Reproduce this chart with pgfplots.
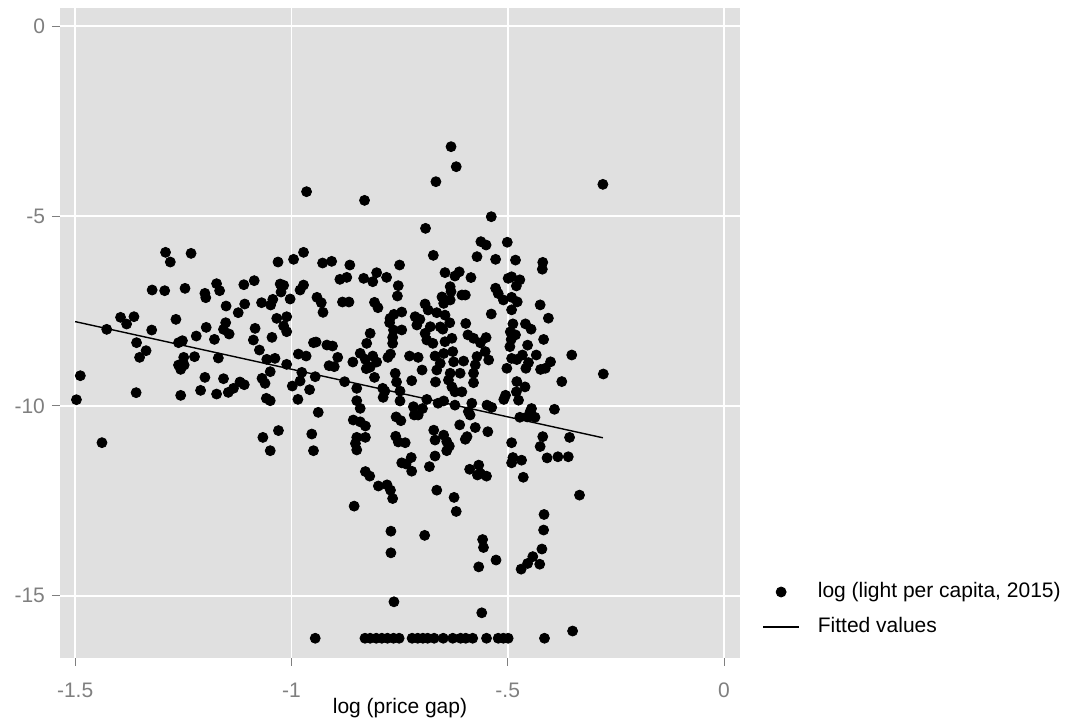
\documentclass[border=0pt]{standalone}
\usepackage{pgfplots}
\pgfplotsset{compat=1.18}
\usepackage{pgfplotstable}
\usepackage{fontspec}
\setmainfont{Liberation Sans}

\definecolor{panelgray}{HTML}{E0E0E0}
\definecolor{ticktext}{HTML}{7F7F7F}

% log(price gap), log(light per capita, 2015)
\pgfplotstableread{
x y
-1.291 -5.956
-1.280 -6.211
-1.232 -5.983
-1.322 -6.948
-1.293 -6.966
-1.246 -6.904
-1.173 -6.781
-1.166 -6.966
-1.110 -6.808
-1.200 -7.036
-1.198 -7.150
-1.151 -7.370
-1.108 -7.317
-1.123 -7.545
-1.395 -7.668
-1.364 -7.651
-1.267 -7.721
-1.427 -7.984
-1.381 -7.844
-1.323 -8.002
-1.358 -8.335
-1.336 -8.546
-1.351 -8.722
-1.261 -8.335
-1.252 -8.283
-1.220 -8.160
-1.197 -7.932
-1.178 -8.248
-1.157 -7.984
-1.152 -7.809
-1.144 -8.107
-1.249 -8.722
-1.224 -8.704
-1.169 -8.739
-1.261 -8.924
-1.248 -8.924
-1.256 -9.038
-1.488 -9.205
-1.200 -9.249
-1.157 -9.284
-1.119 -9.371
-1.109 -9.442
-1.134 -9.538
-1.146 -9.644
-1.210 -9.591
-1.173 -9.688
-1.359 -9.652
-1.256 -9.723
-1.497 -9.837
-1.438 -10.969
-0.965 -4.358
-0.831 -4.587
-0.666 -4.095
-0.690 -5.324
-0.672 -6.035
-0.972 -5.956
-0.995 -6.140
-1.031 -6.211
-0.928 -6.237
-0.907 -6.193
-0.865 -6.290
-0.750 -6.290
-0.803 -6.492
-0.780 -6.615
-0.833 -6.641
-0.812 -6.729
-0.888 -6.667
-0.872 -6.615
-0.753 -6.834
-0.755 -7.106
-1.086 -6.702
-1.026 -6.790
-1.018 -6.825
-1.024 -7.001
-0.972 -6.817
-0.980 -6.948
-1.003 -7.185
-0.941 -7.141
-0.931 -7.282
-0.927 -7.536
-1.069 -7.282
-1.048 -7.343
-1.043 -7.194
-0.882 -7.264
-0.867 -7.264
-0.808 -7.273
-0.800 -7.414
-0.745 -7.528
-0.763 -7.589
-0.691 -7.317
-0.684 -7.475
-0.664 -7.545
-0.714 -7.651
-1.034 -7.695
-1.011 -7.651
-0.703 -7.720
-0.772 -7.695
-1.084 -7.958
-1.088 -8.265
-1.045 -8.195
-1.018 -7.896
-1.011 -8.046
-1.074 -8.529
-1.057 -8.774
-1.038 -8.748
-1.011 -8.906
-1.049 -9.099
-1.068 -9.275
-1.061 -9.407
-1.058 -9.801
-1.049 -9.863
-0.984 -8.634
-0.966 -8.687
-0.949 -8.335
-0.943 -8.318
-0.918 -8.397
-0.905 -8.423
-0.893 -8.722
-0.913 -8.941
-0.901 -8.967
-0.976 -9.117
-0.980 -9.345
-0.945 -9.231
-0.998 -9.477
-0.958 -9.573
-0.985 -9.828
-0.877 -9.363
-0.858 -8.845
-0.849 -9.538
-0.841 -8.616
-0.829 -8.774
-0.826 -8.353
-0.818 -8.090
-0.812 -8.687
-0.803 -8.845
-0.827 -9.020
-0.818 -8.980
-0.808 -9.249
-0.773 -7.809
-0.764 -8.002
-0.766 -8.195
-0.766 -8.353
-0.771 -8.634
-0.777 -8.722
-0.745 -8.000
-0.760 -9.143
-0.757 -9.371
-0.722 -9.336
-0.698 -9.055
-0.727 -8.687
-0.707 -8.722
-0.668 -8.687
-0.673 -8.353
-0.687 -8.265
-0.691 -8.090
-0.679 -7.914
-0.710 -7.870
-0.667 -9.370
-0.664 -9.055
-0.849 -9.863
-0.841 -10.065
-0.789 -9.538
-0.788 -9.775
-0.784 -9.610
-0.749 -9.610
-0.749 -9.870
-0.687 -9.830
-0.661 -9.930
-0.938 -10.170
-0.718 -10.021
-0.716 -10.240
-0.707 -10.240
-0.697 -10.070
-0.758 -10.290
-0.747 -10.390
-0.857 -10.372
-0.841 -10.420
-0.829 -10.530
-0.829 -10.829
-0.849 -10.829
-0.852 -10.990
-0.849 -11.160
-0.953 -10.741
-0.949 -11.180
-1.030 -10.650
-1.066 -10.830
-1.049 -11.180
-0.759 -10.800
-0.753 -10.950
-0.737 -10.970
-0.671 -10.640
-0.668 -10.900
-0.668 -11.320
-0.723 -11.360
-0.745 -11.500
-0.735 -11.530
-0.722 -11.720
-0.681 -11.600
-0.829 -11.730
-0.819 -11.850
-0.799 -12.110
-0.779 -12.080
-0.771 -12.220
-0.766 -12.440
-0.664 -12.220
-0.631 -3.173
-0.619 -3.700
-0.280 -4.165
-0.538 -5.017
-0.562 -5.675
-0.550 -5.763
-0.501 -5.690
-0.571 -6.070
-0.528 -6.140
-0.482 -6.160
-0.419 -6.220
-0.420 -6.400
-0.645 -6.490
-0.622 -6.580
-0.612 -6.470
-0.585 -6.620
-0.499 -6.640
-0.491 -6.600
-0.472 -6.680
-0.480 -6.840
-0.633 -6.860
-0.631 -6.990
-0.606 -7.080
-0.598 -7.080
-0.652 -7.130
-0.648 -7.300
-0.633 -7.210
-0.645 -7.610
-0.528 -6.900
-0.522 -7.040
-0.510 -7.210
-0.491 -7.140
-0.478 -7.260
-0.425 -7.340
-0.491 -7.470
-0.538 -7.580
-0.406 -7.690
-0.634 -7.810
-0.597 -7.830
-0.656 -7.920
-0.650 -7.980
-0.488 -7.840
-0.494 -8.050
-0.482 -8.130
-0.492 -8.250
-0.495 -8.440
-0.459 -7.840
-0.446 -7.980
-0.592 -8.130
-0.579 -8.220
-0.563 -8.340
-0.550 -8.200
-0.645 -8.310
-0.629 -8.220
-0.454 -8.400
-0.417 -8.250
-0.352 -8.660
-0.279 -9.160
-0.648 -8.620
-0.656 -8.880
-0.627 -8.570
-0.625 -8.840
-0.602 -8.820
-0.552 -8.570
-0.544 -8.790
-0.571 -8.700
-0.575 -8.920
-0.491 -8.750
-0.479 -8.780
-0.466 -8.660
-0.452 -8.860
-0.458 -9.010
-0.434 -8.660
-0.424 -9.040
-0.413 -9.010
-0.401 -8.840
-0.502 -9.010
-0.579 -9.140
-0.579 -9.390
-0.633 -9.140
-0.637 -9.320
-0.629 -9.500
-0.622 -9.630
-0.606 -9.630
-0.610 -9.140
-0.479 -9.360
-0.460 -9.500
-0.480 -9.630
-0.475 -9.850
-0.505 -9.720
-0.509 -9.830
-0.375 -9.360
-0.648 -9.870
-0.622 -9.980
-0.583 -9.930
-0.587 -10.240
-0.591 -10.150
-0.548 -9.980
-0.537 -10.040
-0.472 -10.300
-0.455 -10.290
-0.445 -10.070
-0.437 -10.300
-0.448 -10.150
-0.392 -10.090
-0.611 -10.500
-0.575 -10.570
-0.546 -10.680
-0.594 -10.810
-0.598 -10.880
-0.648 -10.770
-0.641 -10.940
-0.635 -11.060
-0.641 -11.180
-0.419 -10.810
-0.425 -11.070
-0.357 -10.830
-0.491 -10.970
-0.409 -11.370
-0.384 -11.340
-0.360 -11.340
-0.488 -11.360
-0.491 -11.500
-0.468 -11.430
-0.567 -11.560
-0.588 -11.670
-0.563 -11.780
-0.549 -11.850
-0.570 -11.820
-0.464 -11.880
-0.334 -12.350
-0.624 -12.410
-0.855 -12.640
-0.770 -13.300
-0.692 -13.410
-0.770 -13.870
-0.763 -15.160
-0.945 -16.120
-0.830 -16.120
-0.818 -16.120
-0.804 -16.120
-0.791 -16.120
-0.778 -16.120
-0.764 -16.120
-0.751 -16.120
-0.721 -16.120
-0.708 -16.120
-0.696 -16.120
-0.685 -16.120
-0.670 -16.120
-0.619 -12.780
-0.416 -12.860
-0.417 -13.270
-0.558 -13.520
-0.556 -13.730
-0.421 -13.770
-0.527 -14.060
-0.567 -14.240
-0.442 -13.970
-0.454 -14.150
-0.469 -14.300
-0.426 -14.170
-0.560 -15.450
-0.350 -15.930
-0.649 -16.120
-0.627 -16.120
-0.609 -16.120
-0.597 -16.120
-0.581 -16.120
-0.549 -16.120
-0.522 -16.120
-0.510 -16.120
-0.499 -16.120
-0.415 -16.120
}\lightdata

\begin{document}
\begin{tikzpicture}
% page = 1065 x 721 px at 0.5pt per px, axis box from (60,8) to (740,658) px
\useasboundingbox (-30pt,-31.5pt) rectangle (502.5pt,329pt);
\begin{axis}[
  at={(0,0)}, anchor=south west,
  scale only axis,
  width=340pt, height=325pt,
  xmin=-1.535, xmax=0.037,
  ymin=-16.64, ymax=0.48,
  xtick={-1.5,-1,-0.5,0},
  xticklabels={-1.5,-1,-.5,0},
  ytick={-15,-10,-5,0},
  yticklabels={-15,-10,-5,0},
  axis background/.style={fill=panelgray},
  axis line style={draw=none},
  grid=major,
  major grid style={white, line width=0.9pt},
  tick pos=left,
  tick align=outside,
  major tick length=4pt,
  tick style={ticktext, line width=0.5pt},
  tick label style={font=\fontsize{10.5}{12}\selectfont, text=ticktext},
  xticklabel style={yshift=-5pt},
  xlabel={log (price gap)},
  xlabel style={font=\fontsize{10.5}{12}\selectfont, at={(axis description cs:0.5,0)}, anchor=center, yshift=-25pt},
  legend image code/.code={\draw[mark repeat=2,mark phase=2,#1] plot coordinates {(0pt,0pt) (9pt,0pt) (18pt,0pt)};},
  legend style={at={(rel axis cs:1.0324,0.0746)}, anchor=west, draw=none, fill=none,
    inner sep=0pt, font=\fontsize{10.5}{12}\selectfont,
    row sep=7pt, column sep=9pt,
    nodes={inner sep=0pt, text height=8pt, text depth=2.5pt}},
  legend cell align=left,
]
\addplot[only marks, mark=*, mark size=2.5pt, black] table[x=x, y=y] {\lightdata};
\addlegendentry{log (light per capita, 2015)}
\addplot[black, line width=0.7pt] coordinates {(-1.5,-7.78) (-0.28,-10.84)};
\addlegendentry{Fitted values}
\end{axis}
\end{tikzpicture}
\end{document}
